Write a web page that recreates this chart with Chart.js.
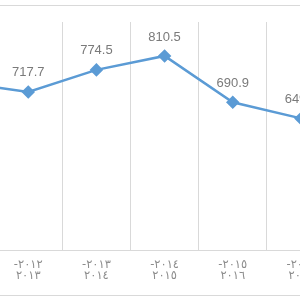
<!DOCTYPE html>
<html>
<head>
<meta charset="utf-8">
<script src="https://cdn.jsdelivr.net/npm/chart.js@4"></script>
<style>
  html, body { margin: 0; padding: 0; background: #fff; overflow: hidden; }
  .frame { position: absolute; left: 0; top: 5px; width: 300px; height: 289px;
           border-top: 1px solid #d9d9d9; border-bottom: 1px solid #d9d9d9; }
  .wrap { position: absolute; left: -74px; top: 0; width: 409px; height: 300px; }
</style>
</head>
<body>
<div class="frame"></div>
<div class="wrap"><canvas class="trend-chart"></canvas></div>
<script>
// fiscal years, first part / second part of each label
const yearFrom = ['-٢٠١١', '-٢٠١٢', '-٢٠١٣', '-٢٠١٤', '-٢٠١٥', '-٢٠١٦'];
const yearTo = ['٢٠١٢', '٢٠١٣', '٢٠١٤', '٢٠١٥', '٢٠١٦', '٢٠١٧'];
const values = [742.4, 717.7, 774.5, 810.5, 690.9, 649.4];

const labels = yearFrom.map((a, i) => [a, yearTo[i]]);

// simple value labels above each point
const pointLabels = {
    id: 'pointLabels',
    afterDatasetsDraw(chart) {
        const c = chart.ctx;
        const meta = chart.getDatasetMeta(0);
        c.save();
        c.font = '13px "Liberation Sans", Arial, sans-serif';
        c.fillStyle = '#7a7a7a';
        c.textAlign = 'center';
        c.textBaseline = 'middle';
        meta.data.forEach((pt, i) => {
            c.fillText(values[i].toFixed(1), pt.x, pt.y - 19);
        });
        c.restore();
    }
};

new Chart(document.querySelector('.trend-chart'), {
    type: 'line',
    data: {
        labels: labels,
        datasets: [{
            data: values,
            borderColor: '#5b9bd5',
            backgroundColor: '#5b9bd5',
            borderWidth: 2.5,
            pointStyle: 'rectRot',
            pointRadius: 5,
            pointHoverRadius: 5,
            tension: 0
        }]
    },
    options: {
        responsive: true,
        maintainAspectRatio: false,
        animation: false,
        layout: { autoPadding: false, padding: { top: 22, bottom: 0, left: 0, right: 0 } },
        scales: {
            x: {
                offset: true,
                grid: { offset: true, color: '#d9d9d9', drawTicks: false },
                border: { display: true, color: '#d9d9d9' },
                ticks: {
                    padding: 9,
                    color: '#8c8c8c',
                    maxRotation: 0,
                    autoSkip: false,
                    font: { family: '"DejaVu Sans", sans-serif', size: 11.5, lineHeight: 1.0 }
                },
                afterFit(scale) { scale.height = 50; }
            },
            y: {
                display: false,
                min: 310,
                max: 898
            }
        },
        plugins: {
            legend: { display: false },
            tooltip: { enabled: false }
        }
    },
    plugins: [pointLabels]
});
</script>
</body>
</html>
